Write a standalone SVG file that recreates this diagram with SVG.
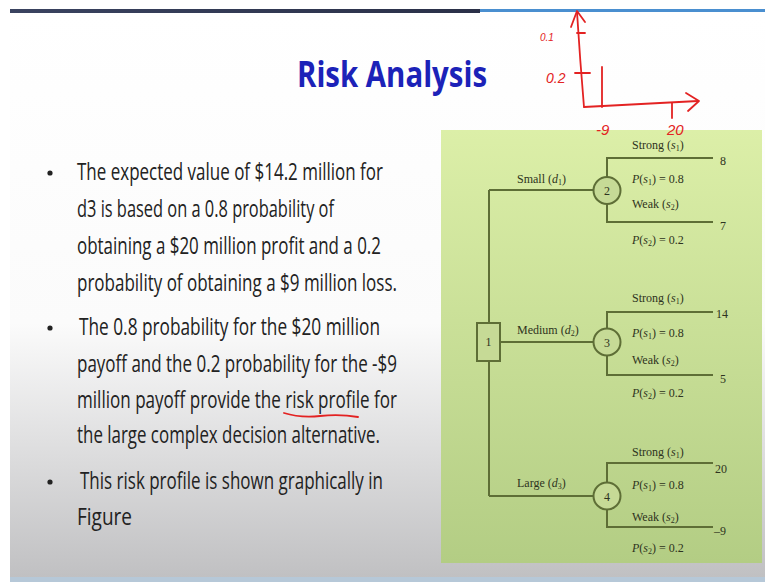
<svg xmlns="http://www.w3.org/2000/svg" width="765" height="582" viewBox="0 0 765 582">
<defs>
<linearGradient id="slideBg" x1="0" y1="0" x2="0" y2="1">
<stop offset="0" stop-color="#ffffff"/>
<stop offset="0.55" stop-color="#fbfbfb"/>
<stop offset="1" stop-color="#c0c0c2"/>
</linearGradient>
<linearGradient id="panelBg" x1="0" y1="0" x2="0" y2="1">
<stop offset="0" stop-color="#dcefa8"/>
<stop offset="1" stop-color="#b3cd84"/>
</linearGradient>
<linearGradient id="topBar" x1="0" y1="0" x2="1" y2="0">
<stop offset="0" stop-color="#3a4360"/>
<stop offset="1" stop-color="#2a3048"/>
</linearGradient>
<style>
.body{font-family:"Open Sans","Liberation Sans",sans-serif;font-size:23px;fill:#222222}
.title{font-family:"Open Sans","Liberation Sans",sans-serif;font-size:36px;font-weight:bold;fill:#1c22b8}
.t{font-family:"Liberation Serif",serif;font-size:12px;fill:#2e3320}
.sub{font-size:8px}
.ln{stroke:#5e6e36;stroke-width:2;fill:none}
.node{fill:#c6da96;stroke:#5e6e36;stroke-width:2}
.red{stroke:#e32222;stroke-width:1.8;fill:none;stroke-linecap:round;stroke-linejoin:round}
.redt{font-family:"Liberation Sans",sans-serif;fill:#e32222;font-style:italic}
</style>
</defs>
<rect x="0" y="0" width="765" height="582" fill="#ffffff"/>
<rect x="10" y="12" width="755" height="566" fill="url(#slideBg)"/>
<rect x="10" y="9" width="470" height="4" fill="url(#topBar)"/>
<rect x="480" y="9" width="285" height="3" fill="#4a8fd0"/>
<rect x="10" y="577" width="755" height="5" fill="#b6c8d8"/>

<text class="title" x="297" y="87" textLength="190" lengthAdjust="spacingAndGlyphs">Risk Analysis</text>

<g id="bullets">
<circle cx="50" cy="173" r="2.6" fill="#222222"/>
<text class="body" x="77" y="180" textLength="306" lengthAdjust="spacingAndGlyphs">The expected value of $14.2 million for</text>
<text class="body" x="77" y="217" textLength="257" lengthAdjust="spacingAndGlyphs">d3 is based on a 0.8 probability of</text>
<text class="body" x="77" y="254" textLength="304" lengthAdjust="spacingAndGlyphs">obtaining a $20 million profit and a 0.2</text>
<text class="body" x="77" y="291" textLength="320" lengthAdjust="spacingAndGlyphs">probability of obtaining a $9 million loss.</text>
<circle cx="50" cy="328" r="2.6" fill="#222222"/>
<text class="body" x="79" y="335" textLength="301" lengthAdjust="spacingAndGlyphs">The 0.8 probability for the $20 million</text>
<text class="body" x="77" y="372" textLength="320" lengthAdjust="spacingAndGlyphs">payoff and the 0.2 probability for the -$9</text>
<text class="body" x="77" y="408" textLength="320" lengthAdjust="spacingAndGlyphs">million payoff provide the risk profile for</text>
<text class="body" x="77" y="443" textLength="303" lengthAdjust="spacingAndGlyphs">the large complex decision alternative.</text>
<path class="red" d="M284,413 Q300,418 320,416 T358,417"/>
<circle cx="50" cy="482" r="2.6" fill="#222222"/>
<text class="body" x="80" y="489" textLength="303" lengthAdjust="spacingAndGlyphs">This risk profile is shown graphically in</text>
<text class="body" x="77" y="525" textLength="55" lengthAdjust="spacingAndGlyphs">Figure</text>
</g>

<rect x="441" y="130" width="321" height="433" fill="url(#panelBg)"/>

<g id="connectors">
<path class="ln" d="M489,190 V323"/>
<path class="ln" d="M489,361 V496"/>
<path class="ln" d="M489,190 H594"/>
<path class="ln" d="M500,342 H594"/>
<path class="ln" d="M489,496 H594"/>
<path class="ln" d="M607,177 V158 H713"/>
<path class="ln" d="M607,204 V222 H713"/>
<path class="ln" d="M607,329 V312 H713"/>
<path class="ln" d="M607,355 V375 H713"/>
<path class="ln" d="M607,483 V463 H713"/>
<path class="ln" d="M607,509 V527 H713"/>
</g>

<g id="node1">
<rect class="node" x="477" y="323" width="23" height="38"/>
<text class="t" x="488.5" y="346" text-anchor="middle">1</text>
</g>
<g id="node2">
<circle class="node" cx="607" cy="190.5" r="13.5"/>
<text class="t" x="607" y="195" text-anchor="middle">2</text>
</g>
<g id="node3">
<circle class="node" cx="607" cy="342" r="13.5"/>
<text class="t" x="607" y="346.5" text-anchor="middle">3</text>
</g>
<g id="node4">
<circle class="node" cx="607" cy="496" r="13.5"/>
<text class="t" x="607" y="500.5" text-anchor="middle">4</text>
</g>

<g id="labels">
<text class="t" x="517" y="183">Small (<tspan font-style="italic">d</tspan><tspan class="sub" dy="2">1</tspan><tspan dy="-2">)</tspan></text>
<text class="t" x="517" y="334">Medium (<tspan font-style="italic">d</tspan><tspan class="sub" dy="2">2</tspan><tspan dy="-2">)</tspan></text>
<text class="t" x="517" y="487">Large (<tspan font-style="italic">d</tspan><tspan class="sub" dy="2">3</tspan><tspan dy="-2">)</tspan></text>

<text class="t" x="632" y="149">Strong (<tspan font-style="italic">s</tspan><tspan class="sub" dy="2">1</tspan><tspan dy="-2">)</tspan></text>
<text class="t" x="632" y="183"><tspan font-style="italic">P</tspan>(<tspan font-style="italic">s</tspan><tspan class="sub" dy="2">1</tspan><tspan dy="-2">) = 0.8</tspan></text>
<text class="t" x="632" y="208">Weak (<tspan font-style="italic">s</tspan><tspan class="sub" dy="2">2</tspan><tspan dy="-2">)</tspan></text>
<text class="t" x="632" y="244"><tspan font-style="italic">P</tspan>(<tspan font-style="italic">s</tspan><tspan class="sub" dy="2">2</tspan><tspan dy="-2">) = 0.2</tspan></text>
<text class="t" x="720" y="165">8</text>
<text class="t" x="720" y="230">7</text>

<text class="t" x="632" y="302">Strong (<tspan font-style="italic">s</tspan><tspan class="sub" dy="2">1</tspan><tspan dy="-2">)</tspan></text>
<text class="t" x="632" y="337"><tspan font-style="italic">P</tspan>(<tspan font-style="italic">s</tspan><tspan class="sub" dy="2">1</tspan><tspan dy="-2">) = 0.8</tspan></text>
<text class="t" x="632" y="364">Weak (<tspan font-style="italic">s</tspan><tspan class="sub" dy="2">2</tspan><tspan dy="-2">)</tspan></text>
<text class="t" x="632" y="397"><tspan font-style="italic">P</tspan>(<tspan font-style="italic">s</tspan><tspan class="sub" dy="2">2</tspan><tspan dy="-2">) = 0.2</tspan></text>
<text class="t" x="716" y="318">14</text>
<text class="t" x="720" y="383">5</text>

<text class="t" x="632" y="456">Strong (<tspan font-style="italic">s</tspan><tspan class="sub" dy="2">1</tspan><tspan dy="-2">)</tspan></text>
<text class="t" x="632" y="489"><tspan font-style="italic">P</tspan>(<tspan font-style="italic">s</tspan><tspan class="sub" dy="2">1</tspan><tspan dy="-2">) = 0.8</tspan></text>
<text class="t" x="632" y="521">Weak (<tspan font-style="italic">s</tspan><tspan class="sub" dy="2">2</tspan><tspan dy="-2">)</tspan></text>
<text class="t" x="632" y="552"><tspan font-style="italic">P</tspan>(<tspan font-style="italic">s</tspan><tspan class="sub" dy="2">2</tspan><tspan dy="-2">) = 0.2</tspan></text>
<text class="t" x="715" y="473">20</text>
<text class="t" x="714" y="535">–9</text>
</g>

<g id="annotation">
<path class="red" d="M584,107 Q580,60 577,12"/>
<path class="red" d="M571,27 L577,11 L585,22"/>
<path class="red" d="M584,107 Q640,104 698,101"/>
<path class="red" d="M686,93 L699,101 L688,111"/>
<path class="red" d="M577,33 H585"/>
<path class="red" d="M575,73 H590"/>
<path class="red" d="M602,67 V107"/>
<path class="red" d="M672,103 V118"/>
<text class="redt" x="540" y="41" font-size="10">0.1</text>
<text class="redt" x="546" y="83" font-size="14">0.2</text>
<text class="redt" x="596" y="135" font-size="15">-9</text>
<text class="redt" x="667" y="135" font-size="15">20</text>
</g>
</svg>
